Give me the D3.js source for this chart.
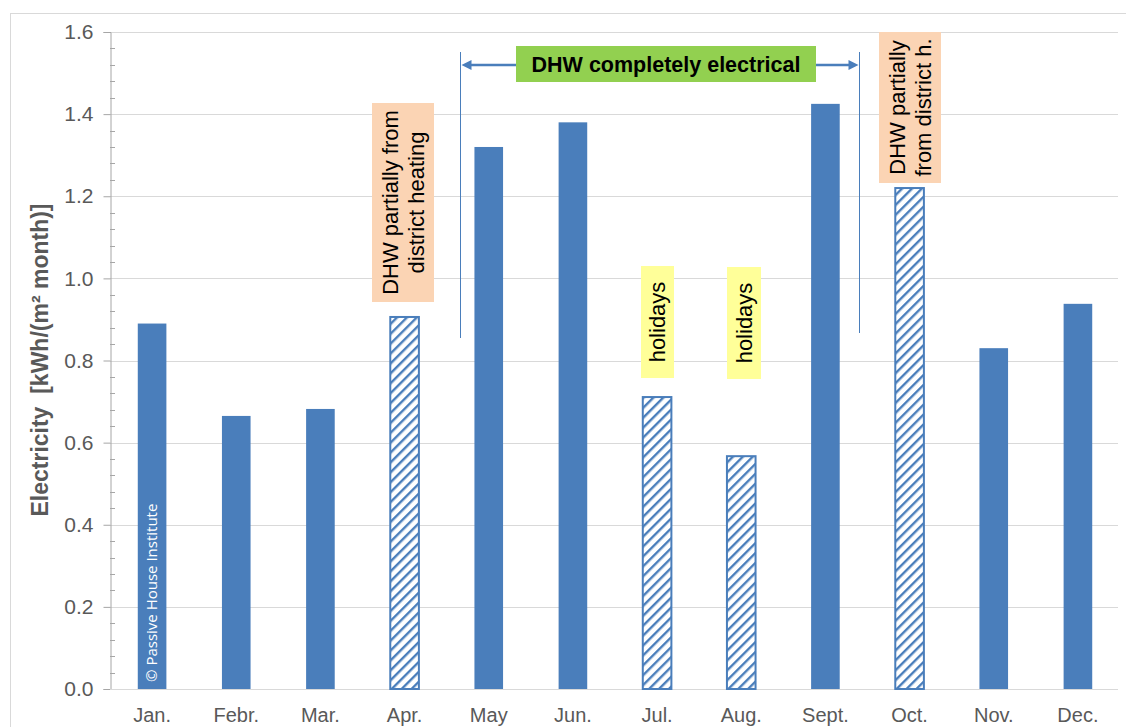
<!DOCTYPE html>
<html><head><meta charset="utf-8">
<script src="https://cdn.jsdelivr.net/npm/d3@7"></script>
<style>
body{margin:0;background:#fff;}
text{font-family:"Liberation Sans",Arial,sans-serif;}
</style></head>
<body><svg id="c" width="1126" height="727"></svg>
<script>
const months = ["Jan.","Febr.","Mar.","Apr.","May","Jun.","Jul.","Aug.","Sept.","Oct.","Nov.","Dec."];
const values = [0.89,0.665,0.682,0.906,1.32,1.38,0.711,0.567,1.425,1.22,0.83,0.938];
const hatched = [false,false,false,true,false,false,true,true,false,true,false,false];
const yTicks = [0,0.2,0.4,0.6,0.8,1.0,1.2,1.4,1.6];
const yLabel = "Electricity  [kWh/(m\u00B2 month)]";

const svg = d3.select("#c");
const blue = "#4a7ebb";
const m = {left:110, right:1120, top:32, bottom:689};

// outer frame
svg.append("rect").attr("x",10.5).attr("y",13.5).attr("width",1130).attr("height",730)
  .attr("fill","none").attr("stroke","#d9d9d9");

const defs = svg.append("defs");
const pat = defs.append("pattern").attr("id","hatch").attr("patternUnits","userSpaceOnUse")
  .attr("width",7).attr("height",7).attr("patternTransform","rotate(45)");
pat.append("rect").attr("width",7).attr("height",7).attr("fill","#fff");
pat.append("rect").attr("x",0).attr("width",2.4).attr("height",7).attr("fill",blue);

const x = d3.scaleBand().domain(months).range([m.left,m.right]).paddingInner(0.66).paddingOuter(0.33);
const y = d3.scaleLinear().domain([0,1.6]).range([m.bottom,m.top]);

// gridlines
svg.append("g").selectAll("line").data(yTicks.slice(1)).join("line")
  .attr("x1",m.left).attr("x2",m.right-2).attr("y1",d=>Math.round(y(d))+0.5).attr("y2",d=>Math.round(y(d))+0.5)
  .attr("stroke","#d9d9d9").attr("stroke-width",1);

// y axis
const yAxis = d3.axisLeft(y).tickValues(yTicks).tickFormat(d3.format(".1f")).tickSize(7).tickPadding(10);
const ga = svg.append("g").attr("transform",`translate(${m.left+0.5},0)`).call(yAxis);
ga.select(".domain").attr("stroke","#a6a6a6");
ga.selectAll(".tick line").attr("stroke","#a6a6a6");
ga.selectAll(".tick text").attr("fill","#595959").style("font-size","21px").style("font-family","'Liberation Sans',Arial,sans-serif");
// minor ticks
const minor = d3.range(0,1.6001,0.04).filter(v=>Math.abs(v/0.2-Math.round(v/0.2))>1e-6);
svg.append("g").selectAll("line").data(minor).join("line")
  .attr("x1",m.left).attr("x2",m.left+5).attr("y1",d=>Math.round(y(d))+0.5).attr("y2",d=>Math.round(y(d))+0.5)
  .attr("stroke","#a6a6a6");

// x axis line
svg.append("line").attr("x1",m.left).attr("x2",m.right-2).attr("y1",m.bottom+0.5).attr("y2",m.bottom+0.5).attr("stroke","#d9d9d9");
const gx = svg.append("g").attr("transform",`translate(0,${m.bottom})`).call(d3.axisBottom(x).tickSize(0).tickPadding(19));
gx.select(".domain").remove();
gx.selectAll(".tick text").attr("fill","#595959").style("font-size","20px").style("font-family","'Liberation Sans',Arial,sans-serif");

// bars
svg.append("g").selectAll("rect").data(months).join("rect")
  .attr("x",(d)=>x(d)).attr("width",x.bandwidth())
  .attr("y",(d,i)=>y(values[i])).attr("height",(d,i)=>y(0)-y(values[i]))
  .attr("fill",(d,i)=>hatched[i]?"url(#hatch)":blue)
  .attr("stroke",(d,i)=>hatched[i]?blue:"none").attr("stroke-width",2);

// y label
svg.append("text").attr("transform","translate(48,360) rotate(-90)").attr("text-anchor","middle")
  .attr("fill","#595959").style("font-size","23px").style("font-weight","bold").style("white-space","pre").text(yLabel);

// copyright
svg.append("text").attr("transform",`translate(${x("Jan.")+x.bandwidth()/2+5},682) rotate(-90)`)
  .attr("fill","#fff").style("font-size","15px").style("font-family","'Open Sans',sans-serif").text("\u00A9 Passive House Institute");

// annotations
function vbox(cx, y0, y1, w, color, lines, size, lh){
  svg.append("rect").attr("x",cx-w/2).attr("y",y0).attr("width",w).attr("height",y1-y0).attr("fill",color);
  const n = lines.length;
  lines.forEach((t,i)=>{
    svg.append("text").attr("transform",`translate(${cx + (i-(n-1)/2)*lh + size*0.36},${(y0+y1)/2}) rotate(-90)`)
      .attr("text-anchor","middle").attr("fill","#000").style("font-size",size+"px").text(t);
  });
}
vbox(403,103,302,62,"#fbd4b4",["DHW partially from","district heating"],22,26);
vbox(910,32,183,62,"#fbd4b4",["DHW partially","from district h."],22,26);
vbox(657.5,266,378,33,"#ffff99",["holidays"],22,0);
vbox(744,267,379,34,"#ffff99",["holidays"],22,0);

// double arrow
const ax0 = 460.5, ax1 = 859.5;
svg.append("line").attr("x1",ax0).attr("x2",ax0).attr("y1",52).attr("y2",338).attr("stroke",blue).attr("stroke-width",1);
svg.append("line").attr("x1",ax1).attr("x2",ax1).attr("y1",52).attr("y2",333).attr("stroke",blue).attr("stroke-width",1);
svg.append("line").attr("x1",ax0+8).attr("x2",ax1-8).attr("y1",65).attr("y2",65).attr("stroke",blue).attr("stroke-width",2.5);
svg.append("path").attr("d",`M${ax0+1},65 L${ax0+11},60 L${ax0+11},70 Z`).attr("fill",blue);
svg.append("path").attr("d",`M${ax1-1},65 L${ax1-11},60 L${ax1-11},70 Z`).attr("fill",blue);
svg.append("rect").attr("x",516).attr("y",46).attr("width",300).attr("height",36).attr("fill","#92d050");
svg.append("text").attr("x",666).attr("y",72).attr("text-anchor","middle").style("font-size","21.5px").style("font-weight","bold")
  .attr("fill","#000").text("DHW completely electrical");
</script></body></html>
